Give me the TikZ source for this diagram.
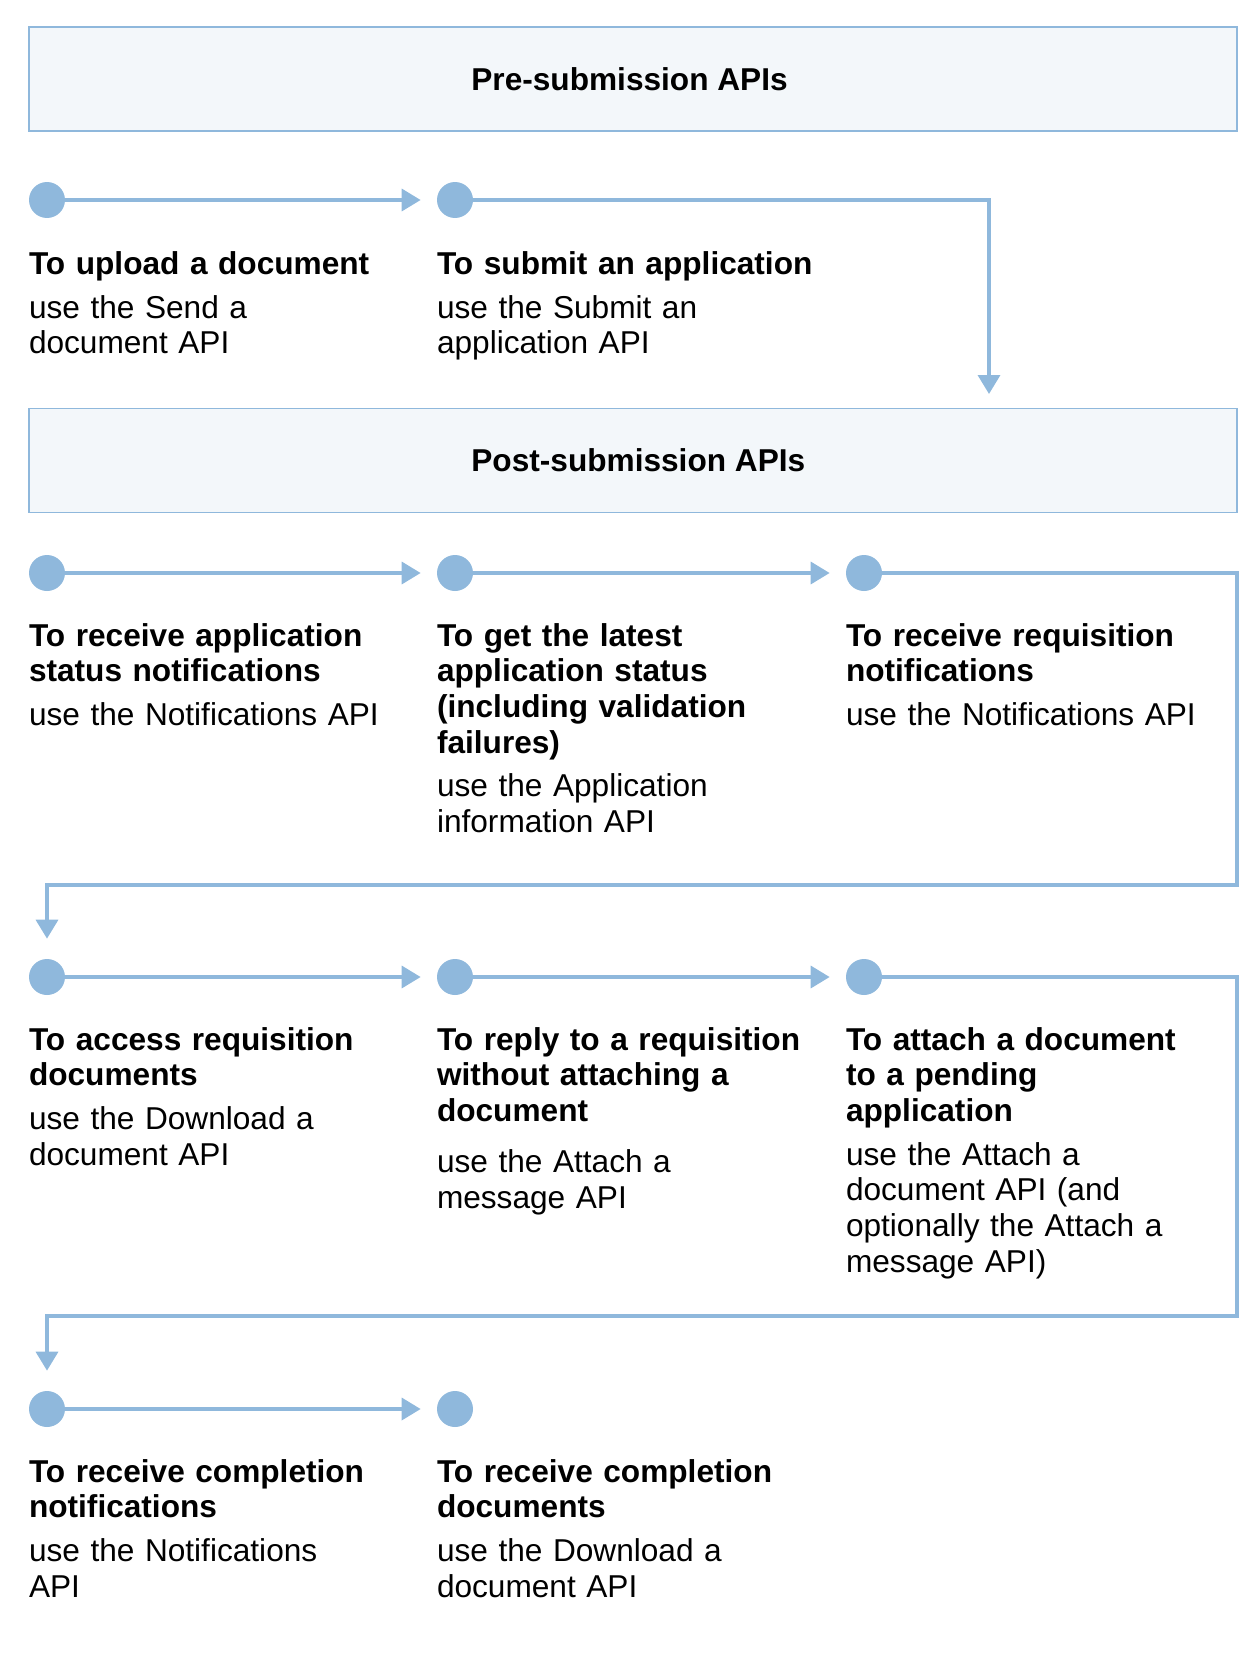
\documentclass[tikz,border=0pt]{standalone}
\usepackage{fontspec}
\setmainfont{Liberation Sans}
\usetikzlibrary{arrows.meta}
\definecolor{apiblue}{HTML}{8FB8DC}
\definecolor{headfill}{HTML}{F3F7FA}
\hyphenpenalty=10000

\begin{document}
\begin{tikzpicture}[
        x=0.02cm,
        y=-0.02cm,
        head box/.style={draw=apiblue,fill=headfill,line width=1pt,minimum width=24.16cm,minimum height=2.08cm,inner sep=0pt},
        head title/.style={anchor=west,inner sep=0pt,font=\fontsize{18pt}{20.3pt}\selectfont\bfseries},
        api dot/.style={circle,fill=apiblue,minimum size=0.72cm,inner sep=0pt},
        api text/.style={anchor=north west,inner sep=0pt,text width=8cm,align=left,font=\fontsize{18pt}{20.3pt}\selectfont},
        flow line/.style={draw=apiblue,line width=2pt,-{Triangle[length=0.38cm,width=0.44cm]},shorten >=0.32cm}
    ]
        \useasboundingbox (0,0) rectangle (1260,1680);

        \node[head box] (prebox) at (633,79) {};
        \node[head title] (pretitle) at (471,79) {Pre-submission APIs};
        \node[head box] (postbox) at (633,460.5) {};
        \node[head title] (posttitle) at (471,460.5) {Post-submission APIs};

        \foreach \n/\x/\y in {a1/47/200,a2/455/200,
                              b1/47/573,b2/455/573,b3/864/573,
                              c1/47/977,c2/455/977,c3/864/977,
                              d1/47/1409,d2/455/1409} {
            \node[api dot] (\n) at (\x,\y) {};
        }

        \node[api text] (a1t) at ([yshift=-0.99cm]a1.west) {\strut\bfseries To upload a document\\[4.4pt]\mdseries use the Send a\\document API};
        \node[api text] (a2t) at ([yshift=-0.99cm]a2.west) {\strut\bfseries To submit an application\\[4.4pt]\mdseries use the Submit an\\application API};

        \node[api text] (b1t) at ([yshift=-0.96cm]b1.west) {\strut\bfseries To receive application\\status notifications\\[4.4pt]\mdseries use the Notifications API};
        \node[api text] (b2t) at ([yshift=-0.96cm]b2.west) {\strut\bfseries To get the latest\\application status\\(including validation\\failures)\\[4.4pt]\mdseries use the Application\\information API};
        \node[api text] (b3t) at ([yshift=-0.96cm]b3.west) {\strut\bfseries To receive requisition\\notifications\\[4.4pt]\mdseries use the Notifications API};

        \node[api text] (c1t) at ([yshift=-0.96cm]c1.west) {\strut\bfseries To access requisition\\documents\\[4.4pt]\mdseries use the Download a\\document API};
        \node[api text] (c2t) at ([yshift=-0.96cm]c2.west) {\strut\bfseries To reply to a requisition\\without attaching a\\document\\[8.8pt]\mdseries use the Attach a\\message API};
        \node[api text] (c3t) at ([yshift=-0.96cm]c3.west) {\strut\bfseries To attach a document\\to a pending\\application\\[4.4pt]\mdseries use the Attach a\\document API (and\\optionally the Attach a\\message API)};

        \node[api text] (d1t) at ([yshift=-0.96cm]d1.west) {\strut\bfseries To receive completion\\notifications\\[4.4pt]\mdseries use the Notifications\\API};
        \node[api text] (d2t) at ([yshift=-0.96cm]d2.west) {\strut\bfseries To receive completion\\documents\\[4.4pt]\mdseries use the Download a\\document API};

        \foreach \a/\b in {a1/a2,b1/b2,b2/b3,c1/c2,c2/c3,d1/d2} {
            \draw[flow line] (\a) -- (\b);
        }

        \coordinate (postin) at (989,394);
        \coordinate (wrap1) at (1237,885);
        \coordinate (wrap2) at (1237,1316);
        \draw[flow line,shorten >=0pt] (a2) -| (postin);
        \draw[flow line,shorten >=0.4cm] (b3) -| (wrap1) -| (c1);
        \draw[flow line,shorten >=0.4cm] (c3) -| (wrap2) -| (d1);
    \end{tikzpicture}
\end{document}
